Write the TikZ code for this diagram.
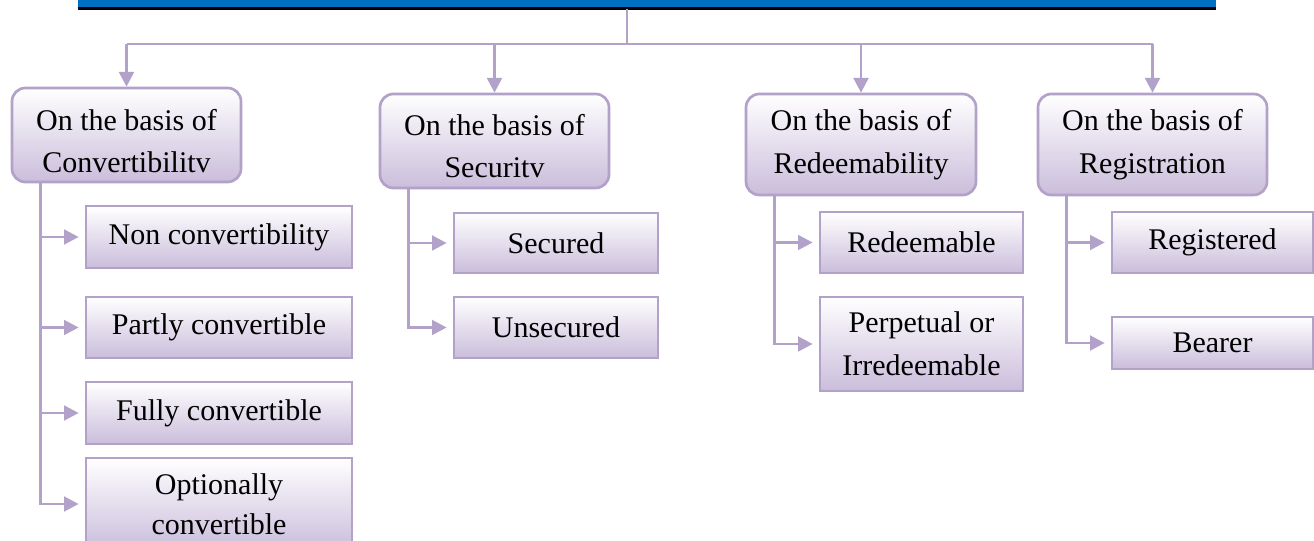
\documentclass[tikz,border=0pt]{standalone}
\usepackage{fontspec}
\setmainfont{Liberation Serif}
\usetikzlibrary{arrows.meta,calc}
\definecolor{lilac}{RGB}{178,161,201}
\definecolor{lilacfill}{RGB}{202,189,219}
\definecolor{headblue}{RGB}{0,112,192}
\tikzset{
  boxbase/.style={draw=lilac, line width=2pt, top color=white, bottom color=lilacfill,
    align=center, inner sep=0pt, font=\fontsize{22.5}{32}\selectfont},
  group/.style={boxbase, rounded corners=10pt},
  leaf/.style={boxbase},
  conn/.style={draw=lilac, line width=2.2pt},
  arr/.style={conn, -{Triangle[length=11pt,width=11pt]}},
  wh/.style 2 args={minimum width=#1*0.75pt, minimum height=#2*0.75pt},
}
\begin{document}
\begin{tikzpicture}[x=0.75pt,y=-0.75pt]
\clip (0,0) rectangle (1314,541);
\useasboundingbox (0,0) rectangle (1314,541);

% heading bar, only its lower edge is in view
\node[fill=headblue, inner sep=0pt, wh={1138}{40}] (root) at (647,-12) {};
\draw[black, line width=2.2pt] (root.south west) -- (root.south east);
\coordinate (rootout) at (627,9);
\coordinate (hub) at (627,44);

% category boxes (frames) and their two-line captions
\node[group, wh={229}{94}] (conv) at (126.5,135) {};
\node[font=\fontsize{22.5}{32}\selectfont, align=center] (convtxt) at (126.5,141) {On the basis of\\Convertibilitv};
\node[group, wh={229}{94}] (secu) at (494.5,141) {};
\node[font=\fontsize{22.5}{32}\selectfont, align=center] (secutxt) at (494.5,146) {On the basis of\\Securitv};
\node[group, wh={230}{101}] (rede) at (861,144.5) {On the basis of\\Redeemability};
\node[group, wh={229}{101}] (regi) at (1152.5,144.5) {On the basis of\\Registration};

% leaves
\node[leaf, wh={266}{62}] (c1) at (219,237) {Non convertibility};
\node[leaf, wh={266}{61}] (c2) at (219,327.5) {Partly convertible};
\node[leaf, wh={266}{62}] (c3) at (219,413) {Fully convertible};
\node[leaf, wh={266}{92}, font=\fontsize{22.5}{30}\selectfont] (c4) at (219,504) {Optionally\\convertible};

\node[leaf, wh={204}{60}] (s1) at (556,243) {Secured};
\node[leaf, wh={204}{61}] (s2) at (556,327.5) {Unsecured};

\node[leaf, wh={203}{61}] (r1) at (921.5,242.5) {Redeemable};
\node[leaf, wh={203}{94}] (r2) at (921.5,344) {Perpetual or\\Irredeemable};

\node[leaf, wh={201}{61}] (g1) at (1212.5,242.5) {Registered};
\node[leaf, wh={201}{52}] (g2) at (1212.5,343) {Bearer};

% trunk
\draw[conn] (rootout) -- (hub);
\draw[conn] (hub) -- (hub -| conv.north);
\draw[conn] (hub) -- (hub -| regi.north);
\foreach \b in {conv,secu,rede,regi}
  \draw[arr] (hub -| \b.north) -- (\b.north);

% branches
\foreach \b/\l in {conv/c1,conv/c2,conv/c3,conv/c4,secu/s1,secu/s2,rede/r1,rede/r2,regi/g1,regi/g2}
  \draw[arr, shorten >=4.5pt] ($(\b.south west)+(30,0)$) |- (\l.west);
\end{tikzpicture}
\end{document}
